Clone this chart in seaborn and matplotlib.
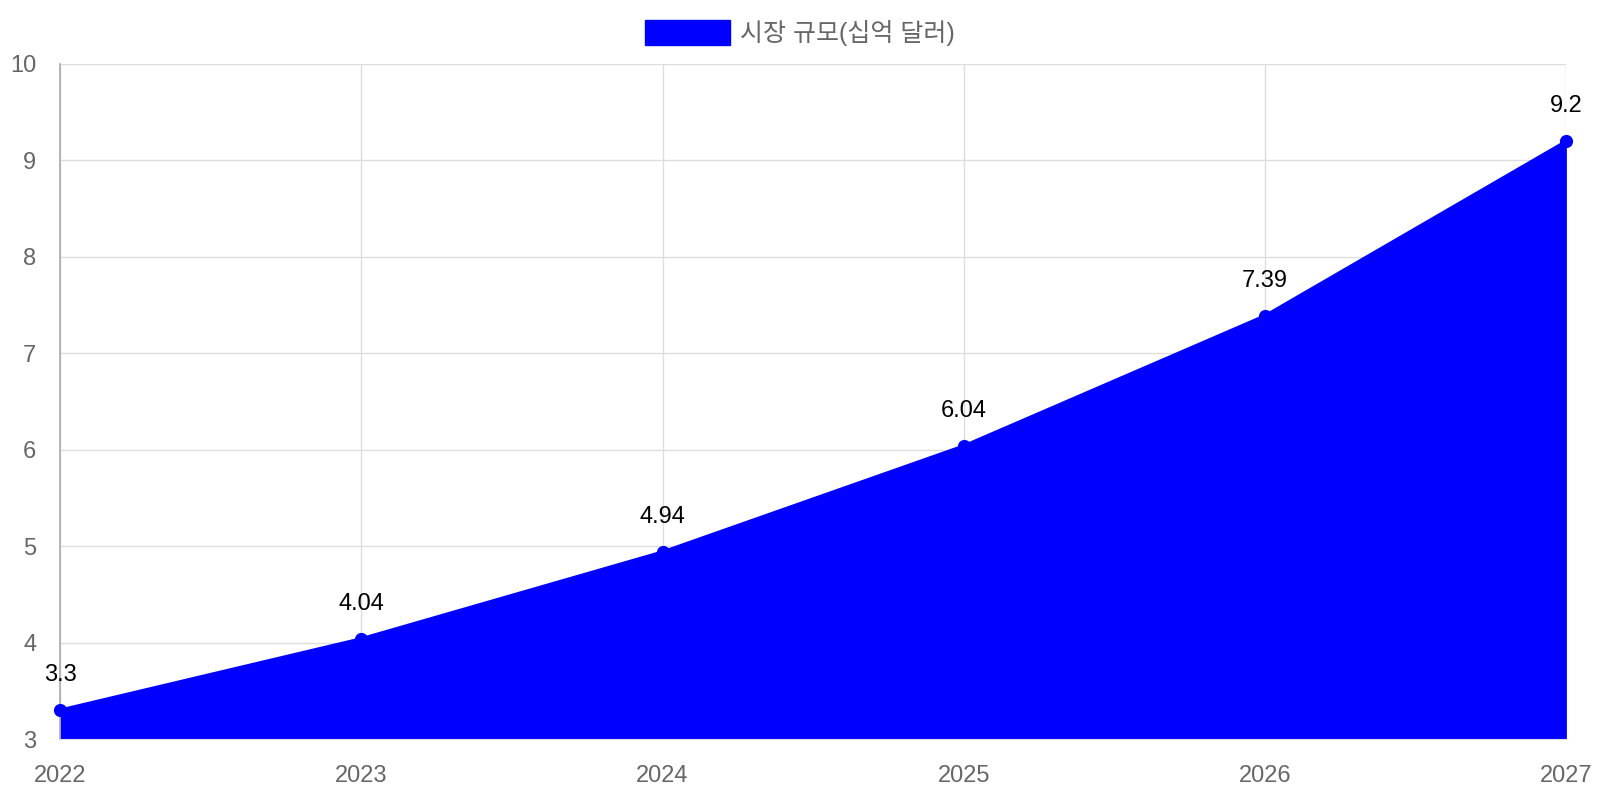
import matplotlib
matplotlib.use('Agg')
import matplotlib.pyplot as plt
import matplotlib.patches as mpatches
import seaborn as sns
import pandas as pd

# ---- 데이터 ----
years = [2022, 2023, 2024, 2025, 2026, 2027]
market_size = [3.3, 4.04, 4.94, 6.04, 7.39, 9.2]
series_name = '시장 규모(십억 달러)'
y_ticks = [3, 4, 5, 6, 7, 8, 9, 10]

sns.set_style('white')
plt.rcParams['font.family'] = ['Liberation Sans', 'Noto Sans CJK KR', 'DejaVu Sans']

df = pd.DataFrame({'year': years, 'value': market_size})

fig = plt.figure(figsize=(16, 8), dpi=100)
ax = fig.add_axes([0.0375, 0.07625, 0.979 - 0.0375, 0.92 - 0.07625])

blue = '#0000ff'
ax.fill_between(df['year'], df['value'], 3, color=blue, linewidth=0, zorder=2)
sns.lineplot(data=df, x='year', y='value', ax=ax, color=blue, linewidth=2.2,
             marker='o', markersize=9.5, markeredgewidth=0, zorder=3)
for ln in ax.get_lines():
    ln.set_clip_on(False)

for x, y in zip(years, market_size):
    ax.annotate(f'{y:g}', (x, y), xytext=(0, 25), textcoords='offset points',
                ha='center', va='center', fontsize=17, color='black', zorder=4)

ax.set_xlim(2022, 2027)
ax.set_ylim(3, 10)
ax.set_xticks(years)
ax.set_yticks(y_ticks)
ax.set_xlabel('')
ax.set_ylabel('')
ax.grid(True, color='#dddddd', linewidth=1, zorder=0)
ax.tick_params(axis='both', length=14, width=1, color='#dddddd',
               labelcolor='#666666', labelsize=17, pad=3)
ax.tick_params(axis='x', pad=5)
for s in ['top', 'right']:
    ax.spines[s].set_visible(False)
ax.spines['left'].set_color('#aaaaaa')
ax.spines['left'].set_linewidth(1.2)
ax.spines['bottom'].set_color('#dddddd')
ax.set_axisbelow(True)

handle = mpatches.Rectangle((0, 0), 1, 1, facecolor=blue, edgecolor=blue)
leg = fig.legend([handle], [series_name], loc='center', bbox_to_anchor=(0.5, 0.959),
                 frameon=False, fontsize=18, handlelength=3.4, handleheight=1.15,
                 handletextpad=0.4)
for t in leg.get_texts():
    t.set_color('#666666')

fig.savefig('out.png', dpi=100)
